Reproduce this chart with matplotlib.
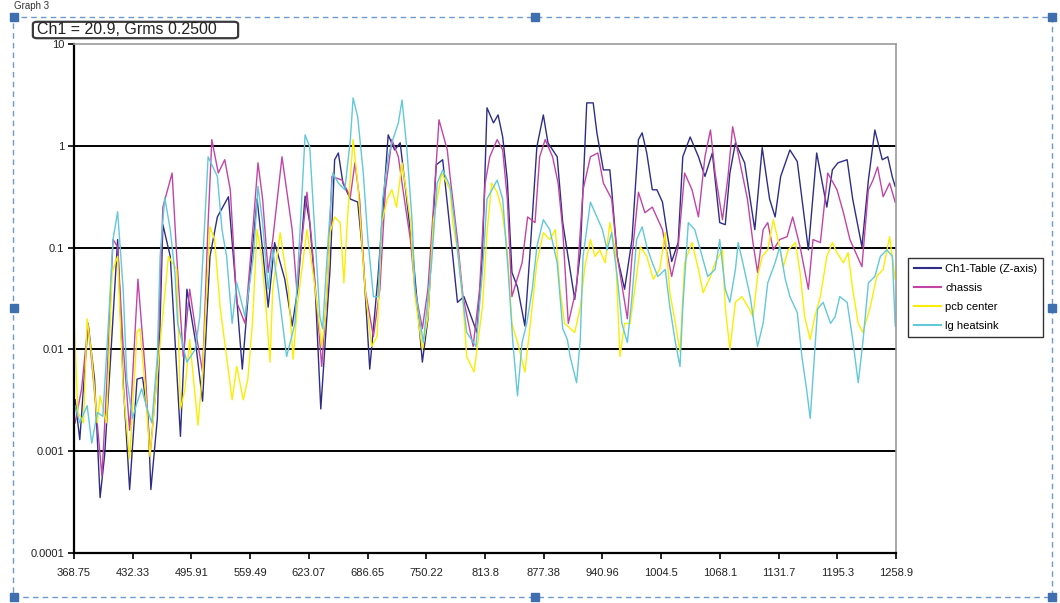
import matplotlib
matplotlib.use("Agg")
import numpy as np
import matplotlib.pyplot as plt
from matplotlib.patches import Rectangle, FancyBboxPatch

plt.rcParams['font.family'] = ['Liberation Sans', 'DejaVu Sans']

# rotulos do eixo X (eixo de categorias do Excel) e do eixo Y
rotulos_x = ["368.75", "432.33", "495.91", "559.49", "623.07", "686.65", "750.22", "813.8",
             "877.38", "940.96", "1004.5", "1068.1", "1131.7", "1195.3", "1258.9"]
valores_y = [0.0001, 0.001, 0.01, 0.1, 1, 10]
rotulos_y = ["0.0001", "0.001", "0.01", "0.1", "1", "10"]

# Ch1-Table (Z-axis)
freq_ch1 = [370, 375, 384, 391, 397, 402, 408, 416, 422, 429,
            437, 443, 449, 452, 459, 465, 473, 484, 491, 500,
            508, 516, 524, 536, 544, 551, 557, 567, 573, 579,
            586, 597, 605, 611, 619, 624, 630, 636, 641, 646,
            651, 655, 660, 668, 676, 682, 689, 698, 709, 716,
            722, 729, 736, 746, 752, 761, 768, 776, 784, 791,
            805, 811, 816, 823, 828, 833, 838, 843, 849, 857,
            863, 870, 877, 882, 892, 898, 906, 911, 917, 924,
            931, 935, 942, 949, 951, 957, 965, 973, 980, 984,
            989, 995, 1000, 1006, 1011, 1016, 1023, 1028, 1036, 1045,
            1052, 1060, 1068, 1074, 1079, 1085, 1095, 1106, 1114, 1122,
            1128, 1134, 1144, 1152, 1164, 1173, 1184, 1190, 1196, 1206,
            1212, 1222, 1229, 1236, 1244, 1250, 1255, 1258]
ch1 = [0.0032, 0.0013, 0.018, 0.0051, 0.00035, 0.00093, 0.0072, 0.12, 0.0047, 0.00042,
       0.0051, 0.0053, 0.0021, 0.00042, 0.0021, 0.168, 0.082, 0.0014, 0.039, 0.0125,
       0.0031, 0.082, 0.20, 0.316, 0.041, 0.0064, 0.031, 0.30, 0.095, 0.026,
       0.112, 0.049, 0.017, 0.039, 0.32, 0.176, 0.039, 0.0026, 0.0125, 0.061,
       0.73, 0.85, 0.43, 0.30, 0.28, 0.076, 0.0064, 0.052, 1.28, 0.91,
       1.07, 0.30, 0.082, 0.0075, 0.020, 0.65, 0.73, 0.15, 0.029, 0.033,
       0.0147, 0.082, 2.36, 1.68, 2.01, 1.22, 0.46, 0.057, 0.041, 0.017,
       0.102, 0.98, 2.01, 1.07, 0.78, 0.176, 0.061, 0.031, 0.089, 2.64,
       2.64, 1.34, 0.58, 0.58, 0.37, 0.082, 0.039, 0.12, 1.15, 1.34,
       0.85, 0.37, 0.37, 0.28, 0.14, 0.073, 0.112, 0.78, 1.22, 0.78,
       0.50, 0.85, 0.176, 0.168, 0.54, 1.07, 0.68, 0.15, 0.96, 0.30,
       0.20, 0.50, 0.91, 0.70, 0.095, 0.85, 0.25, 0.58, 0.68, 0.73,
       0.30, 0.102, 0.46, 1.43, 0.73, 0.78, 0.49, 0.40]

# chassis
freq_chassis = [370, 377, 384, 389, 399, 404, 411, 416, 422, 429,
                438, 446, 451, 459, 465, 475, 480, 487, 494, 502,
                508, 514, 518, 525, 532, 538, 545, 554, 563, 568,
                573, 579, 584, 594, 599, 605, 610, 621, 626, 637,
                643, 648, 659, 668, 673, 678, 684, 693, 700, 706,
                713, 720, 725, 733, 738, 746, 752, 758, 764, 773,
                776, 784, 790, 801, 808, 814, 819, 827, 833, 838,
                843, 854, 860, 868, 873, 879, 887, 893, 898, 904,
                913, 920, 928, 936, 942, 951, 957, 968, 973, 980,
                987, 995, 1006, 1016, 1023, 1030, 1038, 1045, 1052, 1058,
                1063, 1071, 1077, 1082, 1090, 1098, 1104, 1109, 1115, 1120,
                1126, 1133, 1141, 1147, 1155, 1164, 1169, 1177, 1185, 1195,
                1202, 1209, 1222, 1229, 1234, 1239, 1245, 1252, 1258]
chassis = [0.0019, 0.0041, 0.018, 0.0060, 0.00057, 0.0041, 0.12, 0.102, 0.0107, 0.0016,
           0.049, 0.0060, 0.00089, 0.0060, 0.25, 0.54, 0.082, 0.0085, 0.039, 0.0125,
           0.0060, 0.176, 1.15, 0.54, 0.73, 0.37, 0.029, 0.018, 0.176, 0.68,
           0.30, 0.057, 0.12, 0.78, 0.37, 0.15, 0.039, 0.35, 0.12, 0.0068,
           0.039, 0.50, 0.46, 0.316, 0.68, 0.30, 0.039, 0.0134, 0.039, 0.37,
           1.15, 0.78, 0.37, 0.12, 0.039, 0.016, 0.039, 0.25, 1.80, 0.91,
           0.50, 0.12, 0.033, 0.0107, 0.039, 0.43, 0.78, 1.15, 0.91, 0.30,
           0.033, 0.071, 0.20, 0.176, 0.78, 1.15, 0.78, 0.43, 0.15, 0.018,
           0.041, 0.37, 0.78, 0.85, 0.43, 0.30, 0.082, 0.020, 0.082, 0.35,
           0.22, 0.25, 0.15, 0.052, 0.102, 0.54, 0.37, 0.20, 0.78, 1.43,
           0.54, 0.188, 0.50, 1.54, 0.68, 0.30, 0.112, 0.057, 0.15, 0.176,
           0.095, 0.12, 0.128, 0.20, 0.102, 0.039, 0.12, 0.112, 0.54, 0.37,
           0.22, 0.12, 0.065, 0.37, 0.46, 0.62, 0.316, 0.43, 0.28]

# pcb center
freq_pcb = [369, 373, 379, 383, 388, 394, 397, 404, 410, 416,
            422, 429, 437, 440, 446, 451, 456, 464, 471, 480,
            484, 489, 494, 503, 508, 516, 521, 527, 534, 540,
            545, 552, 557, 562, 567, 572, 578, 581, 584, 592,
            601, 606, 611, 621, 630, 637, 641, 646, 651, 657,
            661, 665, 671, 676, 684, 691, 697, 702, 708, 713,
            718, 724, 733, 738, 746, 752, 758, 767, 776, 779,
            785, 790, 794, 802, 811, 816, 821, 827, 832, 838,
            843, 849, 857, 863, 870, 877, 884, 890, 895, 900,
            911, 917, 922, 928, 933, 938, 944, 949, 955, 960,
            965, 971, 976, 982, 989, 996, 1003, 1009, 1014, 1020,
            1025, 1030, 1038, 1045, 1050, 1058, 1063, 1071, 1074, 1079,
            1085, 1092, 1099, 1104, 1109, 1114, 1120, 1126, 1131, 1137,
            1142, 1150, 1155, 1160, 1166, 1171, 1177, 1184, 1190, 1195,
            1202, 1207, 1212, 1218, 1223, 1231, 1238, 1245, 1252, 1258]
pcb = [0.018, 0.0024, 0.0019, 0.020, 0.0085, 0.0019, 0.0035, 0.0019, 0.057, 0.082,
       0.0041, 0.00084, 0.0147, 0.016, 0.0041, 0.00089, 0.0028, 0.018, 0.082, 0.061,
       0.0026, 0.0041, 0.0125, 0.0018, 0.0060, 0.16, 0.12, 0.026, 0.0085, 0.0032,
       0.0068, 0.0032, 0.0051, 0.018, 0.15, 0.082, 0.018, 0.0075, 0.039, 0.14,
       0.039, 0.0080, 0.029, 0.15, 0.039, 0.0107, 0.021, 0.14, 0.20, 0.176,
       0.045, 0.20, 1.15, 0.43, 0.039, 0.0107, 0.0134, 0.176, 0.30, 0.37,
       0.25, 0.68, 0.188, 0.033, 0.010, 0.021, 0.188, 0.54, 0.37, 0.176,
       0.082, 0.029, 0.0085, 0.0060, 0.026, 0.14, 0.43, 0.35, 0.236, 0.095,
       0.018, 0.0117, 0.0060, 0.018, 0.071, 0.14, 0.12, 0.15, 0.039, 0.018,
       0.0147, 0.026, 0.065, 0.12, 0.082, 0.095, 0.071, 0.176, 0.095, 0.0085,
       0.018, 0.018, 0.039, 0.102, 0.082, 0.049, 0.061, 0.14, 0.036, 0.018,
       0.0094, 0.071, 0.112, 0.061, 0.036, 0.052, 0.071, 0.095, 0.026, 0.010,
       0.029, 0.033, 0.026, 0.021, 0.052, 0.082, 0.095, 0.188, 0.12, 0.065,
       0.095, 0.112, 0.057, 0.021, 0.0125, 0.021, 0.033, 0.082, 0.112, 0.089,
       0.071, 0.089, 0.039, 0.018, 0.0147, 0.026, 0.052, 0.061, 0.128, 0.049]

# lg heatsink
freq_heatsink = [370, 375, 383, 388, 394, 400, 406, 411, 416, 422,
                 426, 432, 437, 442, 448, 453, 459, 462, 467, 473,
                 478, 481, 491, 500, 505, 514, 524, 529, 534, 540,
                 545, 554, 563, 568, 573, 579, 584, 590, 599, 608,
                 614, 619, 624, 630, 635, 638, 644, 649, 655, 662,
                 668, 671, 676, 682, 687, 693, 698, 703, 709, 714,
                 720, 724, 729, 735, 738, 747, 756, 762, 768, 776,
                 781, 787, 794, 804, 811, 816, 827, 833, 839, 844,
                 849, 854, 859, 865, 870, 877, 884, 892, 898, 903,
                 906, 913, 917, 920, 928, 935, 941, 946, 951, 957,
                 962, 968, 973, 978, 984, 989, 995, 1001, 1009, 1014,
                 1020, 1025, 1028, 1034, 1041, 1049, 1055, 1063, 1068, 1074,
                 1079, 1085, 1088, 1093, 1101, 1106, 1109, 1115, 1120, 1128,
                 1133, 1139, 1144, 1152, 1157, 1162, 1166, 1171, 1174, 1180,
                 1188, 1193, 1198, 1206, 1212, 1218, 1223, 1229, 1236, 1242,
                 1249, 1255, 1258]
heatsink = [0.0028, 0.0019, 0.0028, 0.0012, 0.0024, 0.0022, 0.018, 0.12, 0.225, 0.039,
            0.0051, 0.0021, 0.0030, 0.0041, 0.0026, 0.0019, 0.0085, 0.082, 0.31, 0.15,
            0.057, 0.018, 0.0075, 0.010, 0.021, 0.78, 0.50, 0.15, 0.082, 0.018,
            0.045, 0.021, 0.082, 0.40, 0.176, 0.039, 0.095, 0.039, 0.0085, 0.018,
            0.176, 1.28, 0.98, 0.12, 0.021, 0.016, 0.12, 0.54, 0.43, 0.37,
            1.15, 2.95, 1.92, 0.54, 0.12, 0.033, 0.033, 0.30, 0.78, 1.15,
            1.68, 2.82, 0.98, 0.176, 0.039, 0.0117, 0.071, 0.43, 0.58, 0.40,
            0.176, 0.052, 0.0147, 0.0107, 0.057, 0.30, 0.46, 0.30, 0.057, 0.0117,
            0.0035, 0.0117, 0.018, 0.039, 0.102, 0.188, 0.15, 0.071, 0.016, 0.0125,
            0.0085, 0.0047, 0.0125, 0.082, 0.28, 0.20, 0.15, 0.095, 0.14, 0.052,
            0.018, 0.0117, 0.033, 0.12, 0.16, 0.102, 0.071, 0.052, 0.061, 0.026,
            0.0117, 0.0068, 0.026, 0.176, 0.15, 0.082, 0.052, 0.061, 0.12, 0.039,
            0.029, 0.061, 0.112, 0.071, 0.033, 0.016, 0.0107, 0.018, 0.045, 0.071,
            0.102, 0.049, 0.033, 0.023, 0.0085, 0.0041, 0.0021, 0.010, 0.025, 0.029,
            0.018, 0.021, 0.033, 0.029, 0.0125, 0.0047, 0.0117, 0.045, 0.052, 0.082,
            0.095, 0.082, 0.017]

series = [
    (freq_ch1, ch1, "Ch1-Table (Z-axis)", "#2E2E88"),
    (freq_chassis, chassis, "chassis", "#C245A6"),
    (freq_pcb, pcb, "pcb center", "#FAEE00"),
    (freq_heatsink, heatsink, "lg heatsink", "#62C8DA"),
]

W, H = 1060, 603
fig = plt.figure(figsize=(W / 100, H / 100), dpi=100)
ax = fig.add_axes([74 / W, 1 - 553 / H, (896 - 74) / W, (553 - 44) / H])

# linhas de grade horizontais (pretas) nas decadas internas
for v in valores_y[1:-1]:
    ax.axhline(v, color="black", lw=1.4, zorder=1)

for f, v, nome, cor in series:
    ax.plot(f, v, color=cor, lw=1.0, label=nome, zorder=2)

ax.set_yscale("log")
ax.set_ylim(valores_y[0], valores_y[-1])
ax.set_yticks(valores_y)
ax.set_yticklabels(rotulos_y)
ax.yaxis.set_minor_locator(matplotlib.ticker.NullLocator())

x0, x1 = float(rotulos_x[0]), float(rotulos_x[-1])
ax.set_xlim(x0, x1)
ax.set_xticks(np.linspace(x0, x1, len(rotulos_x)))
ax.set_xticklabels(rotulos_x)

ax.tick_params(axis="both", direction="out", length=4, width=1.2, colors="black",
               labelsize=8, labelcolor="#222222")
ax.tick_params(axis="x", pad=7)
ax.tick_params(axis="y", pad=3)
for s in ["left", "bottom"]:
    ax.spines[s].set_linewidth(1.6)
    ax.spines[s].set_color("black")
for s in ["top", "right"]:
    ax.spines[s].set_linewidth(1.2)
    ax.spines[s].set_color("#9a9a9a")

# legenda a direita
leg = fig.legend(loc="upper left", bbox_to_anchor=(908 / W, 1 - 258 / H),
                 fontsize=8, frameon=True, fancybox=False, handlelength=2.4,
                 handletextpad=0.4, labelspacing=0.8, borderpad=0.55, borderaxespad=0)
leg.get_frame().set_edgecolor("black")
leg.get_frame().set_linewidth(1.0)
for l in leg.get_lines():
    l.set_linewidth(1.5)

# caixa do titulo
caixa = FancyBboxPatch((35 / W, 1 - 37 / H), 201 / W, 14 / H,
                       boxstyle="round,pad=0.002,rounding_size=0.004",
                       transform=fig.transFigure, fc="white", ec="#3a3a3a", lw=1.6)
fig.patches.append(caixa)
fig.text(37 / W, 1 - 30 / H, "Ch1 = 20.9, Grms 0.2500", fontsize=11.5, va="center",
         ha="left", color="#222222")
fig.text(14 / W, 1 - 6 / H, "Graph 3", fontsize=7, va="center", ha="left", color="#333333")

# borda tracejada de selecao do grafico e alcas
borda = Rectangle((13 / W, 1 - 597 / H), (1052 - 13) / W, (597 - 17) / H,
                  transform=fig.transFigure, fill=False, ec="#6d9bd0", lw=1.0,
                  ls=(0, (4, 3)))
fig.patches.append(borda)
for cx, cy in [(14, 17), (535, 17), (1052, 17), (14, 308), (1052, 308),
               (14, 597), (535, 597), (1052, 597)]:
    fig.patches.append(Rectangle(((cx - 4) / W, 1 - (cy + 4) / H), 8 / W, 8 / H,
                                 transform=fig.transFigure, fc="#3f6fae", ec="#3f6fae"))

fig.savefig("out.png", dpi=100)
